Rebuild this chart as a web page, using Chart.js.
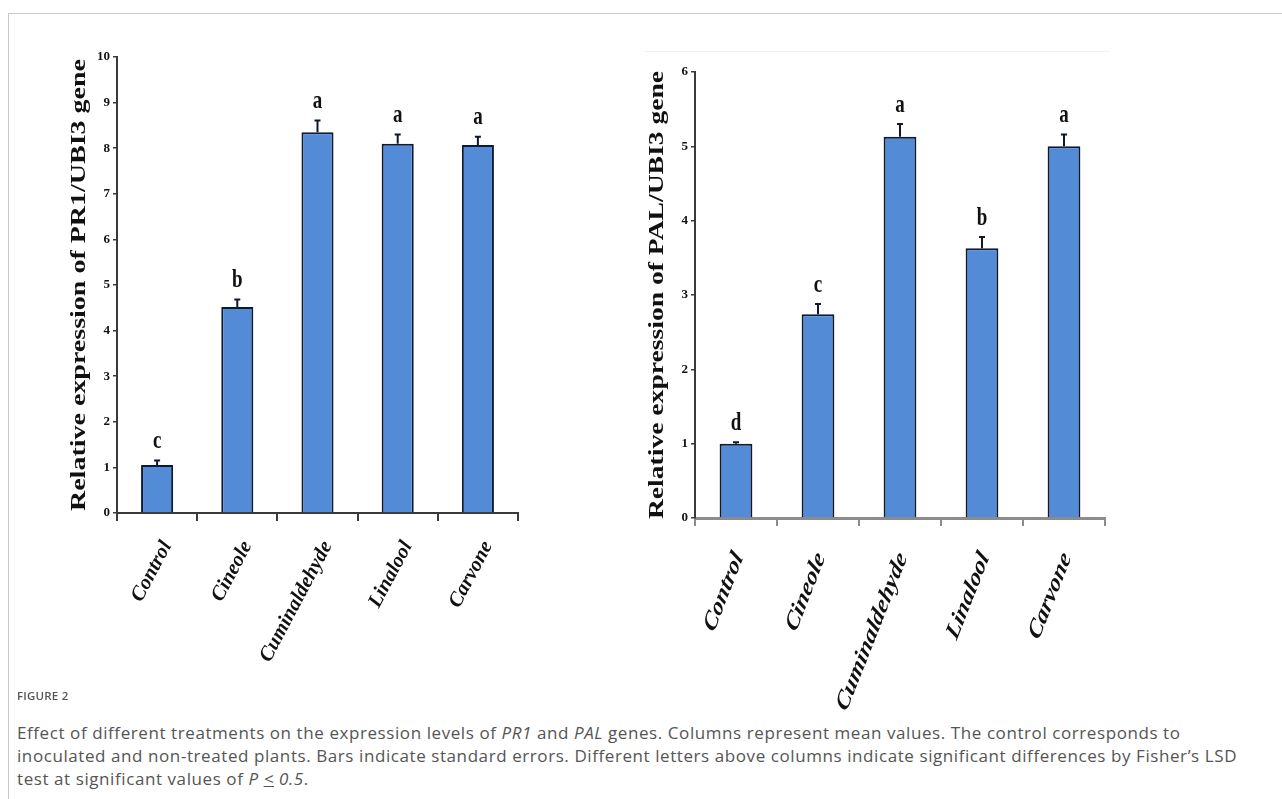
<!DOCTYPE html>
<html>
<head>
<meta charset="utf-8">
<title>Figure 2</title>
<script src="https://cdn.jsdelivr.net/npm/chart.js@4.4.1/dist/chart.umd.min.js"></script>
<style>
  html, body { margin: 0; padding: 0; background: #ffffff; }
  body { width: 1282px; height: 799px; position: relative; overflow: hidden; }
  .frame { position: absolute; left: 8px; top: 13px; right: -2px; bottom: -2px;
           border-left: 1px solid #c9c9c9; border-top: 1px solid #c9c9c9; }
  .faint { position: absolute; left: 645px; top: 51px; width: 465px; height: 1px; background: #f1f1f1; }
  canvas { position: absolute; top: 0; }
  #pr1 { left: 0; }
  #pal { left: 560px; }
  .fig-label { position: absolute; left: 17px; top: 688px; font-family: "Open Sans", sans-serif;
               font-size: 11.5px; font-weight: 600; color: #555; letter-spacing: 0.2px; }
  .caption { position: absolute; left: 17px; top: 721px; font-family: "Open Sans", sans-serif;
             font-size: 17px; line-height: 23px; color: #555; white-space: nowrap; letter-spacing: 0.58px; }
</style>
</head>
<body>
<div class="frame"></div>
<div class="faint"></div>
<canvas id="pr1" width="560" height="700"></canvas>
<canvas id="pal" width="722" height="720"></canvas>
<div class="fig-label">FIGURE 2</div>
<div class="caption">Effect of different treatments on the expression levels of <i>PR1</i> and <i>PAL</i> genes. Columns represent mean values. The control corresponds to<br>inoculated and non-treated plants. Bars indicate standard errors. Different letters above columns indicate significant differences by Fisher’s LSD<br>test at significant values of <i>P</i> <i><u>&lt;</u> 0.5</i>.</div>
<script>
// Treatments shared by both panels
const treatments = ['Control', 'Cineole', 'Cuminaldehyde', 'Linalool', 'Carvone'];

// PR1 relative expression (means, standard errors, LSD groups)
const pr1Means = [1.05, 4.52, 8.35, 8.10, 8.07];
const pr1Errors = [0.10, 0.16, 0.26, 0.20, 0.18];
const pr1Groups = ['c', 'b', 'a', 'a', 'a'];
const pr1Ticks = [0, 1, 2, 3, 4, 5, 6, 7, 8, 9, 10];

// PAL relative expression (means, standard errors, LSD groups)
const palMeans = [1.00, 2.74, 5.13, 3.63, 5.00];
const palErrors = [0.02, 0.14, 0.17, 0.15, 0.16];
const palGroups = ['d', 'c', 'a', 'b', 'a'];
const palTicks = [0, 1, 2, 3, 4, 5, 6];

const serif = '"Liberation Serif", "Times New Roman", serif';

// Standard-error whiskers, significance letters, slanted category labels
// and the tall y-axis title
const annotate = {
  id: 'annotate',
  afterDraw(chart, args, opts) {
    const ctx = chart.ctx;
    const xScale = chart.scales.x;
    const yScale = chart.scales.y;
    const meta = chart.getDatasetMeta(0);
    const values = chart.data.datasets[0].data;
    ctx.save();
    meta.data.forEach((bar, i) => {
      const top = yScale.getPixelForValue(values[i] + opts.errors[i]);
      ctx.strokeStyle = '#101828';
      ctx.lineWidth = 2;
      ctx.beginPath();
      ctx.moveTo(bar.x, bar.y);
      ctx.lineTo(bar.x, top);
      ctx.moveTo(bar.x - 3, top);
      ctx.lineTo(bar.x + 3, top);
      ctx.stroke();
      ctx.save();
      ctx.translate(bar.x, top - 19);
      ctx.scale(1, 1.35);
      ctx.fillStyle = '#111';
      ctx.font = 'bold 19px ' + serif;
      ctx.textAlign = 'center';
      ctx.textBaseline = 'middle';
      ctx.fillText(opts.letters[i], 0, 0);
      ctx.restore();
    });

    // category labels, anchored at their upper right end below each tick
    chart.data.labels.forEach((label, i) => {
      ctx.save();
      ctx.translate(xScale.getPixelForTick(i) + opts.labelShift, xScale.top + opts.labelDrop);
      ctx.scale(1, opts.labelStretch);
      ctx.rotate(-opts.labelAngle * Math.PI / 180);
      ctx.fillStyle = '#111';
      ctx.font = 'italic bold ' + opts.labelSize + 'px ' + serif;
      ctx.textAlign = 'right';
      ctx.textBaseline = 'top';
      ctx.fillText(label, 0, 0);
      ctx.restore();
    });

    // axis title
    const area = chart.chartArea;
    ctx.save();
    ctx.translate(opts.titleX, (area.top + area.bottom) / 2);
    ctx.rotate(-Math.PI / 2);
    ctx.scale(opts.titleStretch, 1);
    ctx.fillStyle = '#111';
    ctx.font = 'bold 20px ' + serif;
    ctx.textAlign = 'center';
    ctx.textBaseline = 'middle';
    ctx.fillText(opts.title, 0, 0);
    ctx.restore();
    ctx.restore();
  }
};

function makePanel(id, cfg) {
  return new Chart(document.getElementById(id), {
    type: 'bar',
    data: {
      labels: treatments,
      datasets: [{
        data: cfg.means,
        backgroundColor: '#538bd6',
        borderColor: '#0d1a33',
        borderWidth: 2,
        borderSkipped: 'bottom',
        barPercentage: 0.4,
        categoryPercentage: 1.0
      }]
    },
    options: {
      responsive: false,
      animation: false,
      events: [],
      layout: { autoPadding: false, padding: cfg.padding },
      plugins: {
        legend: { display: false },
        tooltip: { enabled: false },
        annotate: {
          errors: cfg.errors, letters: cfg.letters,
          title: cfg.title, titleX: cfg.titleX, titleStretch: cfg.titleStretch,
          labelAngle: cfg.labelAngle, labelStretch: cfg.labelStretch, labelSize: cfg.labelSize,
          labelDrop: cfg.labelDrop, labelShift: cfg.labelShift
        }
      },
      scales: {
        x: {
          offset: true,
          afterFit(scale) { scale.height = cfg.xHeight; },
          border: { color: cfg.xAxisColor, width: cfg.xAxisWidth },
          grid: { display: true, drawOnChartArea: false, offset: true, tickLength: 8,
                  color: cfg.xAxisColor, lineWidth: 2 },
          ticks: { display: false }
        },
        y: {
          min: 0,
          max: cfg.ticks[cfg.ticks.length - 1],
          afterFit(scale) { scale.width = cfg.yWidth; },
          afterBuildTicks(scale) { scale.ticks = cfg.ticks.map(v => ({ value: v })); },
          border: { color: '#3a3a3a', width: 2 },
          grid: { display: true, drawOnChartArea: false, tickLength: 4, color: '#3a3a3a', lineWidth: 1.5 },
          ticks: { padding: 3, color: '#111', font: { family: serif, size: 13, weight: 'bold' } },
          title: { display: false }
        }
      }
    },
    plugins: [annotate]
  });
}

makePanel('pr1', {
  means: pr1Means, errors: pr1Errors, letters: pr1Groups, ticks: pr1Ticks,
  title: 'Relative expression of PR1/UBI3 gene', titleX: 80, titleStretch: 1.4,
  padding: { left: 62, top: 57, right: 42, bottom: 0 },
  yWidth: 55, xHeight: 187,
  labelAngle: 62, labelStretch: 1.0, labelSize: 20.5, labelDrop: 25, labelShift: 1,
  xAxisColor: '#3a3a3a', xAxisWidth: 2
});

makePanel('pal', {
  means: palMeans, errors: palErrors, letters: palGroups, ticks: palTicks,
  title: 'Relative expression of PAL/UBI3 gene', titleX: 98, titleStretch: 1.38,
  padding: { left: 88, top: 72, right: 177, bottom: 0 },
  yWidth: 47, xHeight: 202,
  labelAngle: 62, labelStretch: 1.35, labelSize: 20, labelDrop: 30, labelShift: -6,
  xAxisColor: '#8c8c8c', xAxisWidth: 3
});
</script>
</body>
</html>
